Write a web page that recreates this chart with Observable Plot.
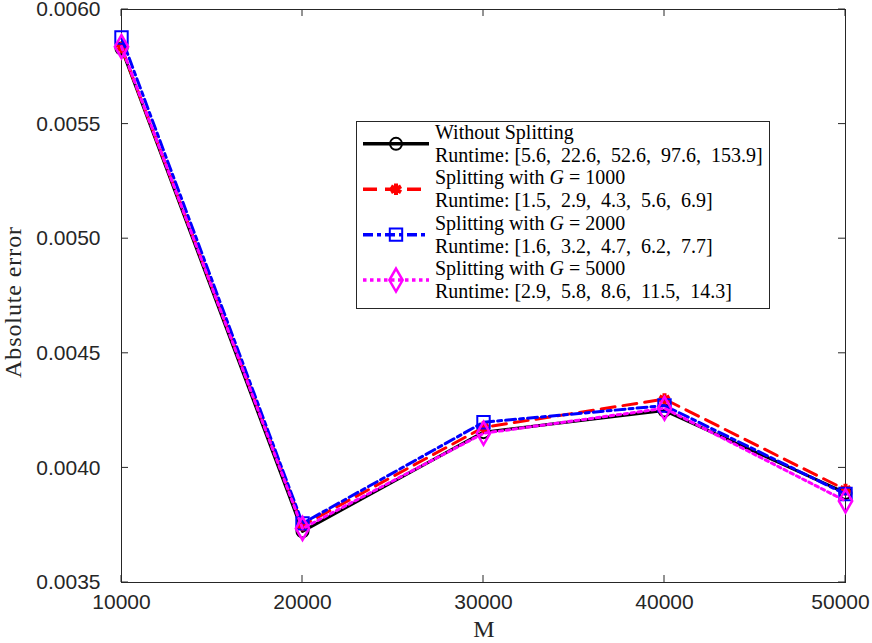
<!DOCTYPE html>
<html>
<head>
<meta charset="utf-8">
<script src="https://cdn.jsdelivr.net/npm/d3@7"></script>
<script src="https://cdn.jsdelivr.net/npm/@observablehq/plot@0.6"></script>
<style>
  html, body { margin: 0; padding: 0; background: #fff; }
  #wrap { position: relative; width: 872px; height: 643px; }
  #legend { position: absolute; left: 0; top: 0; pointer-events: none; }
</style>
</head>
<body>
<div id="wrap"></div>
<script>
// ---- data ----
const M = [10000, 20000, 30000, 40000, 50000];
const errWithout = [0.005830, 0.003723, 0.004156, 0.004250, 0.003891];
const errG1000   = [0.005834, 0.003749, 0.004177, 0.004300, 0.003905];
const errG2000   = [0.005878, 0.003758, 0.004199, 0.004272, 0.003886];
const errG5000   = [0.005838, 0.003736, 0.004151, 0.004260, 0.003856];
const seriesNames = ["Without Splitting", "Splitting with G = 1000", "Splitting with G = 2000", "Splitting with G = 5000"];
const gValues = [null, 1000, 2000, 5000];
const runtimes = [
  [5.6, 22.6, 52.6, 97.6, 153.9],
  [1.5, 2.9, 4.3, 5.6, 6.9],
  [1.6, 3.2, 4.7, 6.2, 7.7],
  [2.9, 5.8, 8.6, 11.5, 14.3]
];
const xTicks = [10000, 20000, 30000, 40000, 50000];
const yTicks = [0.0035, 0.0040, 0.0045, 0.0050, 0.0055, 0.0060];
const xLabel = "M";
const yLabel = "Absolute error";

const styles = [
  {color: "#000000", dash: null,          symbol: "circle",   r: 6,   fill: "none", sw: 2},
  {color: "#ff0000", dash: "14,8",        symbol: "asterisk", r: 5.5, fill: "none", sw: 4},
  {color: "#0000ff", dash: "10,4,4,4",    symbol: "square",   r: 7,   fill: "none", sw: 2},
  {color: "#ff00ff", dash: "3.5,3.5",     symbol: "diamond",  r: 7,   fill: "none", sw: 2.5}
];
const allSeries = [errWithout, errG1000, errG2000, errG5000];
const data = allSeries.map((vals, i) => M.map((m, j) => ({M: m, err: vals[j], s: i})));

const axisColor = "#262626";
const marks = [];
data.forEach((rows, i) => {
  const st = styles[i];
  marks.push(Plot.line(rows, {x: "M", y: "err", stroke: st.color, strokeWidth: 3,
    strokeDasharray: st.dash || undefined}));
  marks.push(Plot.dot(rows, {x: "M", y: "err", stroke: st.color, fill: st.fill,
    r: st.r, symbol: st.symbol, strokeWidth: st.sw}));
});

const plot = Plot.plot({
  width: 872,
  height: 643,
  marginLeft: 121,
  marginRight: 27,
  marginTop: 9,
  marginBottom: 61,
  style: {fontFamily: "'Liberation Sans', Arial, sans-serif", fontSize: "21px", color: axisColor, background: "#fff", overflow: "visible"},
  x: {domain: [10000, 50000], label: null},
  y: {domain: [0.0035, 0.0060], label: null},
  marks: [
    Plot.frame({stroke: axisColor, strokeWidth: 1}),
    Plot.axisX({ticks: xTicks, anchor: "bottom", tickSize: 0, tickPadding: 12, tickFormat: d3.format("d"), fill: axisColor, label: null}),
    Plot.axisY({ticks: yTicks, anchor: "left", tickSize: 0, tickPadding: 21, tickFormat: d3.format(".4f"), fill: axisColor, label: null}),
    ...marks
  ]
});
document.getElementById("wrap").appendChild(plot);

// inward ticks on all four sides and axis titles, positioned via the plot's scales
(function () {
  const svg = d3.select(plot);
  // keep the last x tick label inside the page, as in the reference
  const xLabels = svg.selectAll("g[aria-label='x-axis tick label'] text").nodes();
  if (xLabels.length) {
    const last = d3.select(xLabels[xLabels.length - 1]);
    const tr = last.attr("transform") || "";
    last.attr("transform", tr + " translate(-5,0)");
  }
  const xs = plot.scale("x"), ys = plot.scale("y");
  const g = svg.append("g").attr("stroke", axisColor).attr("stroke-width", 1);
  const top = 9, bottom = 643 - 61, left = 121, right = 872 - 27, len = 7;
  xTicks.forEach(t => {
    const x = xs.apply(t);
    g.append("line").attr("x1", x).attr("x2", x).attr("y1", bottom).attr("y2", bottom - len);
    g.append("line").attr("x1", x).attr("x2", x).attr("y1", top).attr("y2", top + len);
  });
  yTicks.forEach(t => {
    const y = ys.apply(t);
    g.append("line").attr("y1", y).attr("y2", y).attr("x1", left).attr("x2", left + len);
    g.append("line").attr("y1", y).attr("y2", y).attr("x1", right).attr("x2", right - len);
  });
  svg.append("text").attr("x", (left + right) / 2 + 1).attr("y", 637)
    .attr("text-anchor", "middle").attr("font-family", "'Liberation Serif', serif")
    .attr("font-size", 24).attr("fill", axisColor).text(xLabel);
  svg.append("text").attr("transform", `translate(21,302) rotate(-90)`)
    .attr("text-anchor", "middle").attr("font-family", "'Liberation Serif', serif")
    .attr("font-size", 24).attr("letter-spacing", "0.9px").attr("fill", axisColor).text(yLabel);
})();

// legend
(function () {
  const lg = d3.select("#wrap").append("svg").attr("id", "legend")
    .attr("width", 872).attr("height", 643);
  const bx = 356.5, by = 121.5, bw = 413, bh = 187;
  lg.append("rect").attr("x", bx).attr("y", by).attr("width", bw).attr("height", bh)
    .attr("fill", "#fff").attr("stroke", axisColor).attr("stroke-width", 1);
  const rowH = 22.7, firstBase = 139;
  const symMap = {circle: d3.symbolCircle, asterisk: d3.symbolAsterisk, square: d3.symbolSquare, diamond: d3.symbolDiamond};
  seriesNames.forEach((name, i) => {
    const st = styles[i];
    const base1 = firstBase + rowH * 2 * i;
    const base2 = base1 + rowH;
    const cy = (base1 + base2) / 2 - 6.5;
    lg.append("line").attr("x1", 363).attr("x2", 429).attr("y1", cy).attr("y2", cy)
      .attr("stroke", st.color).attr("stroke-width", 3.5)
      .attr("stroke-dasharray", st.dash || null);
    lg.append("path").attr("d", d3.symbol(symMap[st.symbol], Math.PI * st.r * st.r)())
      .attr("transform", `translate(396,${cy})`)
      .attr("fill", st.fill).attr("stroke", st.color).attr("stroke-width", st.sw);
    const t1 = lg.append("text").attr("x", 435).attr("y", base1)
      .attr("font-family", "'Liberation Serif', serif").attr("font-size", 20).attr("fill", "#000");
    if (gValues[i] == null) {
      t1.text(name);
    } else {
      t1.append("tspan").text("Splitting with ");
      t1.append("tspan").attr("font-style", "italic").text("G");
      t1.append("tspan").text(" = " + gValues[i]);
    }
    lg.append("text").attr("x", 435).attr("y", base2)
      .attr("font-family", "'Liberation Serif', serif").attr("font-size", 20).attr("fill", "#000")
      .attr("xml:space", "preserve").style("white-space", "pre")
      .text("Runtime: [" + runtimes[i].map(v => v.toFixed(1)).join(",  ") + "]");
  });
})();
</script>
</body>
</html>
